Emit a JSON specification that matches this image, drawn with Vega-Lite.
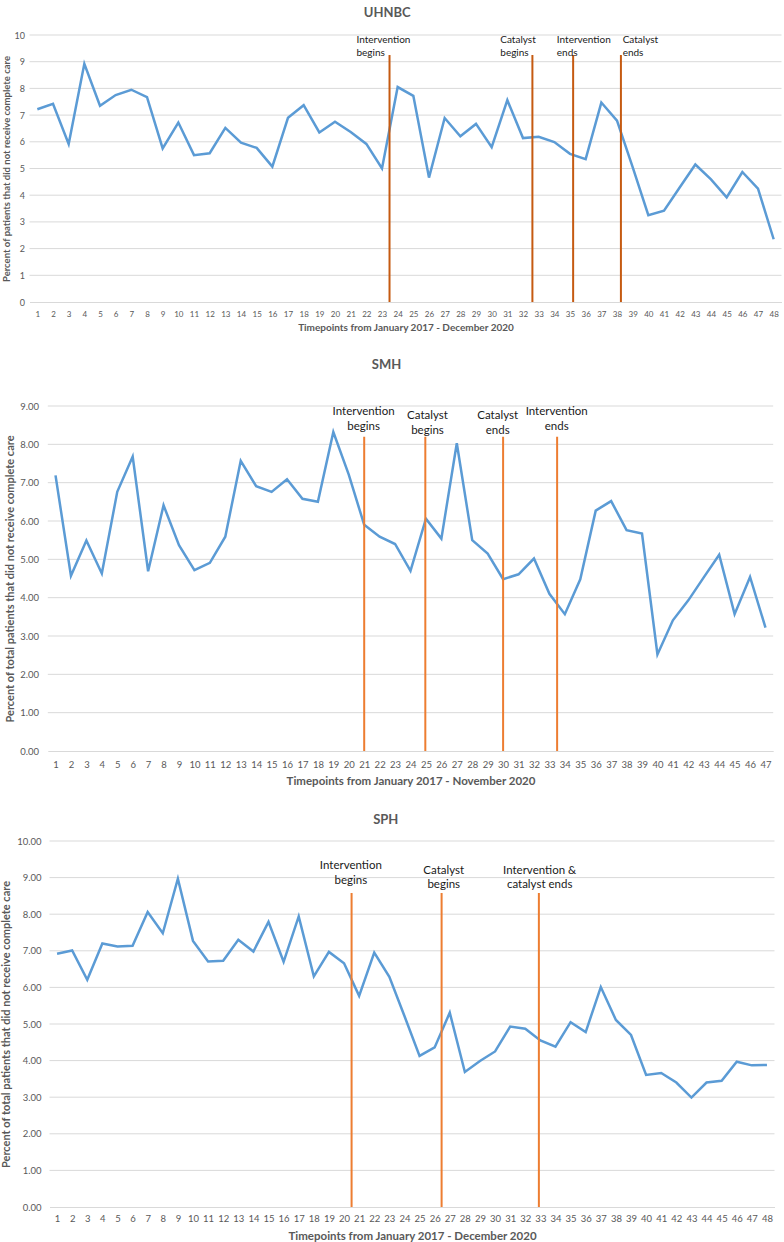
{
  "$schema": "https://vega.github.io/schema/vega-lite/v6.json",
  "background": "white",
  "padding": {"top": 7, "left": 0, "right": 0, "bottom": 0},
  "config": {
    "font": "Lato",
    "view": {"stroke": null},
    "axis": {"labelColor": "#595959", "titleColor": "#595959", "titleFontWeight": "bold", "ticks": false, "grid": false, "domainColor": "#d9d9d9", "labelOverlap": false, "labelFlush": false, "labelBound": false, "tickCount": 100},
    "title": {"color": "#595959", "fontWeight": "bold", "fontSize": 13, "frame": "group", "anchor": "middle"}
  },
  "datasets": {
    "uhnbc": [
      {"t":1,"v":7.22},{"t":2,"v":7.42},{"t":3,"v":5.92},{"t":4,"v":8.92},{"t":5,"v":7.35},{"t":6,"v":7.75},{"t":7,"v":7.95},{"t":8,"v":7.67},{"t":9,"v":5.75},{"t":10,"v":6.72},
      {"t":11,"v":5.5},{"t":12,"v":5.57},{"t":13,"v":6.52},{"t":14,"v":5.97},{"t":15,"v":5.77},{"t":16,"v":5.07},{"t":17,"v":6.9},{"t":18,"v":7.37},{"t":19,"v":6.35},{"t":20,"v":6.75},
      {"t":21,"v":6.37},{"t":22,"v":5.92},{"t":23,"v":5.0},{"t":24,"v":8.05},{"t":25,"v":7.72},{"t":26,"v":4.66},{"t":27,"v":6.89},{"t":28,"v":6.21},{"t":29,"v":6.67},{"t":30,"v":5.8},
      {"t":31,"v":7.56},{"t":32,"v":6.14},{"t":33,"v":6.19},{"t":34,"v":5.99},{"t":35,"v":5.55},{"t":36,"v":5.35},{"t":37,"v":7.47},{"t":38,"v":6.79},{"t":39,"v":5.05},{"t":40,"v":3.25},
      {"t":41,"v":3.42},{"t":42,"v":4.29},{"t":43,"v":5.15},{"t":44,"v":4.59},{"t":45,"v":3.92},{"t":46,"v":4.87},{"t":47,"v":4.25},{"t":48,"v":2.35}
    ],
    "smh": [
      {"t":1,"v":7.19},{"t":2,"v":4.57},{"t":3,"v":5.49},{"t":4,"v":4.63},{"t":5,"v":6.76},{"t":6,"v":7.68},{"t":7,"v":4.69},{"t":8,"v":6.41},{"t":9,"v":5.37},{"t":10,"v":4.72},
      {"t":11,"v":4.91},{"t":12,"v":5.59},{"t":13,"v":7.57},{"t":14,"v":6.91},{"t":15,"v":6.76},{"t":16,"v":7.09},{"t":17,"v":6.58},{"t":18,"v":6.5},{"t":19,"v":8.32},{"t":20,"v":7.21},
      {"t":21,"v":5.9},{"t":22,"v":5.59},{"t":23,"v":5.4},{"t":24,"v":4.7},{"t":25,"v":6.06},{"t":26,"v":5.54},{"t":27,"v":8.03},{"t":28,"v":5.5},{"t":29,"v":5.15},{"t":30,"v":4.48},
      {"t":31,"v":4.61},{"t":32,"v":5.02},{"t":33,"v":4.1},{"t":34,"v":3.57},{"t":35,"v":4.48},{"t":36,"v":6.27},{"t":37,"v":6.52},{"t":38,"v":5.76},{"t":39,"v":5.67},{"t":40,"v":2.52},
      {"t":41,"v":3.41},{"t":42,"v":3.93},{"t":43,"v":4.53},{"t":44,"v":5.12},{"t":45,"v":3.57},{"t":46,"v":4.54},{"t":47,"v":3.22}
    ],
    "sph": [
      {"t":1,"v":6.92},{"t":2,"v":7.01},{"t":3,"v":6.21},{"t":4,"v":7.2},{"t":5,"v":7.12},{"t":6,"v":7.14},{"t":7,"v":8.06},{"t":8,"v":7.48},{"t":9,"v":8.97},{"t":10,"v":7.27},
      {"t":11,"v":6.71},{"t":12,"v":6.73},{"t":13,"v":7.3},{"t":14,"v":6.98},{"t":15,"v":7.79},{"t":16,"v":6.7},{"t":17,"v":7.94},{"t":18,"v":6.3},{"t":19,"v":6.97},{"t":20,"v":6.66},
      {"t":21,"v":5.77},{"t":22,"v":6.95},{"t":23,"v":6.29},{"t":24,"v":5.22},{"t":25,"v":4.13},{"t":26,"v":4.36},{"t":27,"v":5.31},{"t":28,"v":3.69},{"t":29,"v":3.99},{"t":30,"v":4.25},
      {"t":31,"v":4.93},{"t":32,"v":4.87},{"t":33,"v":4.55},{"t":34,"v":4.38},{"t":35,"v":5.05},{"t":36,"v":4.78},{"t":37,"v":6.01},{"t":38,"v":5.11},{"t":39,"v":4.7},{"t":40,"v":3.61},
      {"t":41,"v":3.66},{"t":42,"v":3.4},{"t":43,"v":2.99},{"t":44,"v":3.4},{"t":45,"v":3.45},{"t":46,"v":3.97},{"t":47,"v":3.87},{"t":48,"v":3.88}
    ],
    "grid1": [
      {"g":1,"a":0.5,"b":48.5},{"g":2,"a":0.5,"b":48.5},{"g":3,"a":0.5,"b":48.5},{"g":4,"a":0.5,"b":48.5},{"g":5,"a":0.5,"b":48.5},
      {"g":6,"a":0.5,"b":48.5},{"g":7,"a":0.5,"b":48.5},{"g":8,"a":0.5,"b":48.5},{"g":9,"a":0.5,"b":48.5},{"g":10,"a":0.5,"b":48.5}
    ],
    "grid2": [
      {"g":1,"a":0.5,"b":47.5},{"g":2,"a":0.5,"b":47.5},{"g":3,"a":0.5,"b":47.5},{"g":4,"a":0.5,"b":47.5},{"g":5,"a":0.5,"b":47.5},
      {"g":6,"a":0.5,"b":47.5},{"g":7,"a":0.5,"b":47.5},{"g":8,"a":0.5,"b":47.5},{"g":9,"a":0.5,"b":47.5}
    ],
    "ev1": [
      {"t":23.48,"top":9.25,"base":0,"label":"Intervention\nbegins","lx":21.37,"ly":10},
      {"t":32.6,"top":9.25,"base":0,"label":"Catalyst\nbegins","lx":30.55,"ly":10},
      {"t":35.2,"top":9.25,"base":0,"label":"Intervention\nends","lx":34.16,"ly":10},
      {"t":38.25,"top":9.25,"base":0,"label":"Catalyst\nends","lx":38.36,"ly":10}
    ],
    "ev2": [
      {"t":21,"top":8.2,"base":0,"label":"Intervention\nbegins","lx":20.96,"ly":9.0},
      {"t":24.96,"top":8.2,"base":0,"label":"Catalyst\nbegins","lx":25.1,"ly":8.9},
      {"t":30.0,"top":8.2,"base":0,"label":"Catalyst\nends","lx":29.65,"ly":8.9},
      {"t":33.5,"top":8.2,"base":0,"label":"Intervention\nends","lx":33.47,"ly":9.0}
    ],
    "ev3": [
      {"t":20.5,"top":8.58,"base":0,"label":"Intervention\nbegins","lx":20.45,"ly":9.47},
      {"t":26.46,"top":8.58,"base":0,"label":"Catalyst\nbegins","lx":26.6,"ly":9.35},
      {"t":32.9,"top":8.58,"base":0,"label":"Intervention &\ncatalyst ends","lx":32.95,"ly":9.35}
    ]
  },
  "spacing": 27,
  "vconcat": [
    {
      "width": 730.5,
      "height": 267,
      "title": {"text": "UHNBC", "offset": 11, "dx": -29},
      "layer": [
        {
          "data": {"name": "grid1"},
          "mark": {"type": "rule", "color": "#d9d9d9", "strokeWidth": 1},
          "encoding": {
            "y": {"field": "g", "type": "quantitative"},
            "x": {"field": "a", "type": "quantitative"},
            "x2": {"field": "b"}
          }
        },
        {
          "data": {"name": "uhnbc"},
          "mark": {"type": "line", "color": "#5B9BD5", "strokeWidth": 2.5},
          "encoding": {
            "x": {"field": "t", "type": "quantitative", "scale": {"domain": [0.5, 48.5], "range": [-21.5, 730.5], "nice": false, "zero": false},
                  "axis": {"values": [1,2,3,4,5,6,7,8,9,10,11,12,13,14,15,16,17,18,19,20,21,22,23,24,25,26,27,28,29,30,31,32,33,34,35,36,37,38,39,40,41,42,43,44,45,46,47,48],
                           "format": "d", "tickCount": 100, "labelFontSize": 8, "labelPadding": 8, "labelOverlap": false,
                           "title": "Timepoints from January 2017 - December 2020", "titleFontSize": 10, "titlePadding": 4}},
            "y": {"field": "v", "type": "quantitative", "scale": {"domain": [0, 10], "nice": false},
                  "axis": {"values": [0,1,2,3,4,5,6,7,8,9,10], "tickCount": 100, "format": "d", "domain": false, "labelFontSize": 9, "labelPadding": 5, "offset": 21.5, "labelOverlap": false,
                           "title": "Percent of patients that did not receive complete care", "titleFontSize": 9.5, "titlePadding": 3}}
          }
        },
        {
          "data": {"name": "ev1"},
          "mark": {"type": "rule", "color": "#C55A11", "strokeWidth": 2},
          "encoding": {
            "x": {"field": "t", "type": "quantitative"},
            "y": {"field": "top", "type": "quantitative"},
            "y2": {"field": "base"}
          }
        },
        {
          "data": {"name": "ev1"},
          "mark": {"type": "text", "align": "left", "baseline": "top", "lineBreak": "\n", "fontSize": 10, "lineHeight": 13, "color": "#1a1a1a"},
          "encoding": {
            "x": {"field": "lx", "type": "quantitative"},
            "y": {"field": "ly", "type": "quantitative"},
            "text": {"field": "label", "type": "nominal"}
          }
        }
      ]
    },
    {
      "width": 722.2,
      "height": 345,
      "title": {"text": "SMH", "offset": 29, "dx": -25.6},
      "layer": [
        {
          "data": {"name": "grid2"},
          "mark": {"type": "rule", "color": "#d9d9d9", "strokeWidth": 1},
          "encoding": {
            "y": {"field": "g", "type": "quantitative"},
            "x": {"field": "a", "type": "quantitative"},
            "x2": {"field": "b"}
          }
        },
        {
          "data": {"name": "smh"},
          "mark": {"type": "line", "color": "#5B9BD5", "strokeWidth": 2.5},
          "encoding": {
            "x": {"field": "t", "type": "quantitative", "scale": {"domain": [0.5, 47.5], "range": [-3.2, 722.2], "nice": false, "zero": false},
                  "axis": {"values": [1,2,3,4,5,6,7,8,9,10,11,12,13,14,15,16,17,18,19,20,21,22,23,24,25,26,27,28,29,30,31,32,33,34,35,36,37,38,39,40,41,42,43,44,45,46,47],
                           "format": "d", "tickCount": 100, "labelFontSize": 9.5, "labelPadding": 8, "labelOverlap": false,
                           "title": "Timepoints from January 2017 - November 2020", "titleFontSize": 11.5, "titlePadding": 7}},
            "y": {"field": "v", "type": "quantitative", "scale": {"domain": [0, 9], "nice": false},
                  "axis": {"values": [0,1,2,3,4,5,6,7,8,9], "tickCount": 100, "format": ".2f", "domain": false, "labelFontSize": 9.5, "labelPadding": 12.5, "labelOverlap": false,
                           "title": "Percent of total patients that did not receive complete care", "titleFontSize": 11, "titlePadding": 4}}
          }
        },
        {
          "data": {"name": "ev2"},
          "mark": {"type": "rule", "color": "#ED7D31", "strokeWidth": 2},
          "encoding": {
            "x": {"field": "t", "type": "quantitative"},
            "y": {"field": "top", "type": "quantitative"},
            "y2": {"field": "base"}
          }
        },
        {
          "data": {"name": "ev2"},
          "mark": {"type": "text", "align": "center", "baseline": "top", "lineBreak": "\n", "fontSize": 11.5, "lineHeight": 15, "color": "#1a1a1a"},
          "encoding": {
            "x": {"field": "lx", "type": "quantitative"},
            "y": {"field": "ly", "type": "quantitative"},
            "text": {"field": "label", "type": "nominal"}
          }
        }
      ]
    },
    {
      "width": 723.5,
      "height": 366,
      "title": {"text": "SPH", "offset": 9, "dx": -27},
      "layer": [
        {
          "data": {"name": "grid1"},
          "mark": {"type": "rule", "color": "#d9d9d9", "strokeWidth": 1},
          "encoding": {
            "y": {"field": "g", "type": "quantitative"},
            "x": {"field": "a", "type": "quantitative"},
            "x2": {"field": "b"}
          }
        },
        {
          "data": {"name": "sph"},
          "mark": {"type": "line", "color": "#5B9BD5", "strokeWidth": 2.5},
          "encoding": {
            "x": {"field": "t", "type": "quantitative", "scale": {"domain": [0.5, 48.5], "range": [-1.5, 723.5], "nice": false, "zero": false},
                  "axis": {"values": [1,2,3,4,5,6,7,8,9,10,11,12,13,14,15,16,17,18,19,20,21,22,23,24,25,26,27,28,29,30,31,32,33,34,35,36,37,38,39,40,41,42,43,44,45,46,47,48],
                           "format": "d", "tickCount": 100, "labelFontSize": 9.5, "labelPadding": 6, "labelOverlap": false,
                           "title": "Timepoints from January 2017 - December 2020", "titleFontSize": 11.5, "titlePadding": 8}},
            "y": {"field": "v", "type": "quantitative", "scale": {"domain": [0, 10], "nice": false},
                  "axis": {"values": [0,1,2,3,4,5,6,7,8,9,10], "tickCount": 100, "format": ".2f", "domain": false, "labelFontSize": 9.5, "labelPadding": 10, "labelOverlap": false,
                           "title": "Percent of total patients that did not receive complete care", "titleFontSize": 11, "titlePadding": 5}}
          }
        },
        {
          "data": {"name": "ev3"},
          "mark": {"type": "rule", "color": "#ED7D31", "strokeWidth": 2},
          "encoding": {
            "x": {"field": "t", "type": "quantitative"},
            "y": {"field": "top", "type": "quantitative"},
            "y2": {"field": "base"}
          }
        },
        {
          "data": {"name": "ev3"},
          "mark": {"type": "text", "align": "center", "baseline": "top", "lineBreak": "\n", "fontSize": 11.5, "lineHeight": 14.5, "color": "#1a1a1a"},
          "encoding": {
            "x": {"field": "lx", "type": "quantitative"},
            "y": {"field": "ly", "type": "quantitative"},
            "text": {"field": "label", "type": "nominal"}
          }
        }
      ]
    }
  ]
}
